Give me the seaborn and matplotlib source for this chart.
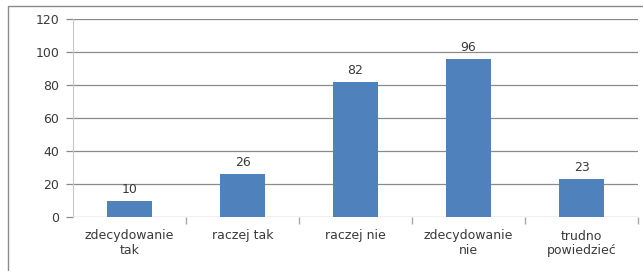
import matplotlib
matplotlib.use("Agg")
import matplotlib.pyplot as plt
import seaborn as sns
import pandas as pd
from matplotlib.patches import Rectangle

categories = ["zdecydowanie\ntak", "raczej tak", "raczej nie", "zdecydowanie\nnie", "trudno\npowiedzieć"]
values = [10, 26, 82, 96, 23]
y_ticks = [0, 20, 40, 60, 80, 100, 120]

df = pd.DataFrame({"kategoria": categories, "liczba": values})

sns.set_style("white")
plt.rcParams["font.family"] = ["DejaVu Sans"]

fig = plt.figure(figsize=(6.43, 2.71), dpi=100)
ax = fig.add_axes([73 / 643, 1 - 217 / 271, 565 / 643, 198 / 271])

sns.barplot(data=df, x="kategoria", y="liczba", color="#4F81BD", width=0.4,
            saturation=1, linewidth=0, ax=ax)

ax.set_xlim(-0.5, len(categories) - 0.5)
ax.set_ylim(0, 120)
ax.set_yticks(y_ticks)
ax.yaxis.grid(True, color="#8a8a8a", linewidth=0.9)
ax.set_axisbelow(True)
ax.tick_params(axis="y", left=True, length=5, width=0.9, color="#8a8a8a", labelsize=9, pad=5,
               labelcolor="#3a3a3a")
ax.tick_params(axis="x", length=0, labelsize=9, pad=9, labelcolor="#3a3a3a")
ax.set_xticks(range(len(categories)))
ax.set_xticklabels(categories, linespacing=1.15)
ax.set_xticks([i + 0.5 for i in range(len(categories))], minor=True)
ax.tick_params(axis="x", which="minor", bottom=True, length=5, width=1, color="#a8a8a8",
               direction="out")
ax.set_xlabel("")
ax.set_ylabel("")

for side in ["top", "right", "bottom"]:
    ax.spines[side].set_visible(False)
ax.spines["left"].set_color("#c8c8c8")

for i, v in enumerate(values):
    ax.text(i, v + 3, str(v), ha="center", va="bottom", fontsize=9, color="#3a3a3a")

fig.patches.append(Rectangle((8 / 643, -0.1), 1.2, 1.1 - 6 / 271, transform=fig.transFigure,
                             fill=False, edgecolor="#8a8a8a", linewidth=1))

fig.savefig("out.png", dpi=100)
